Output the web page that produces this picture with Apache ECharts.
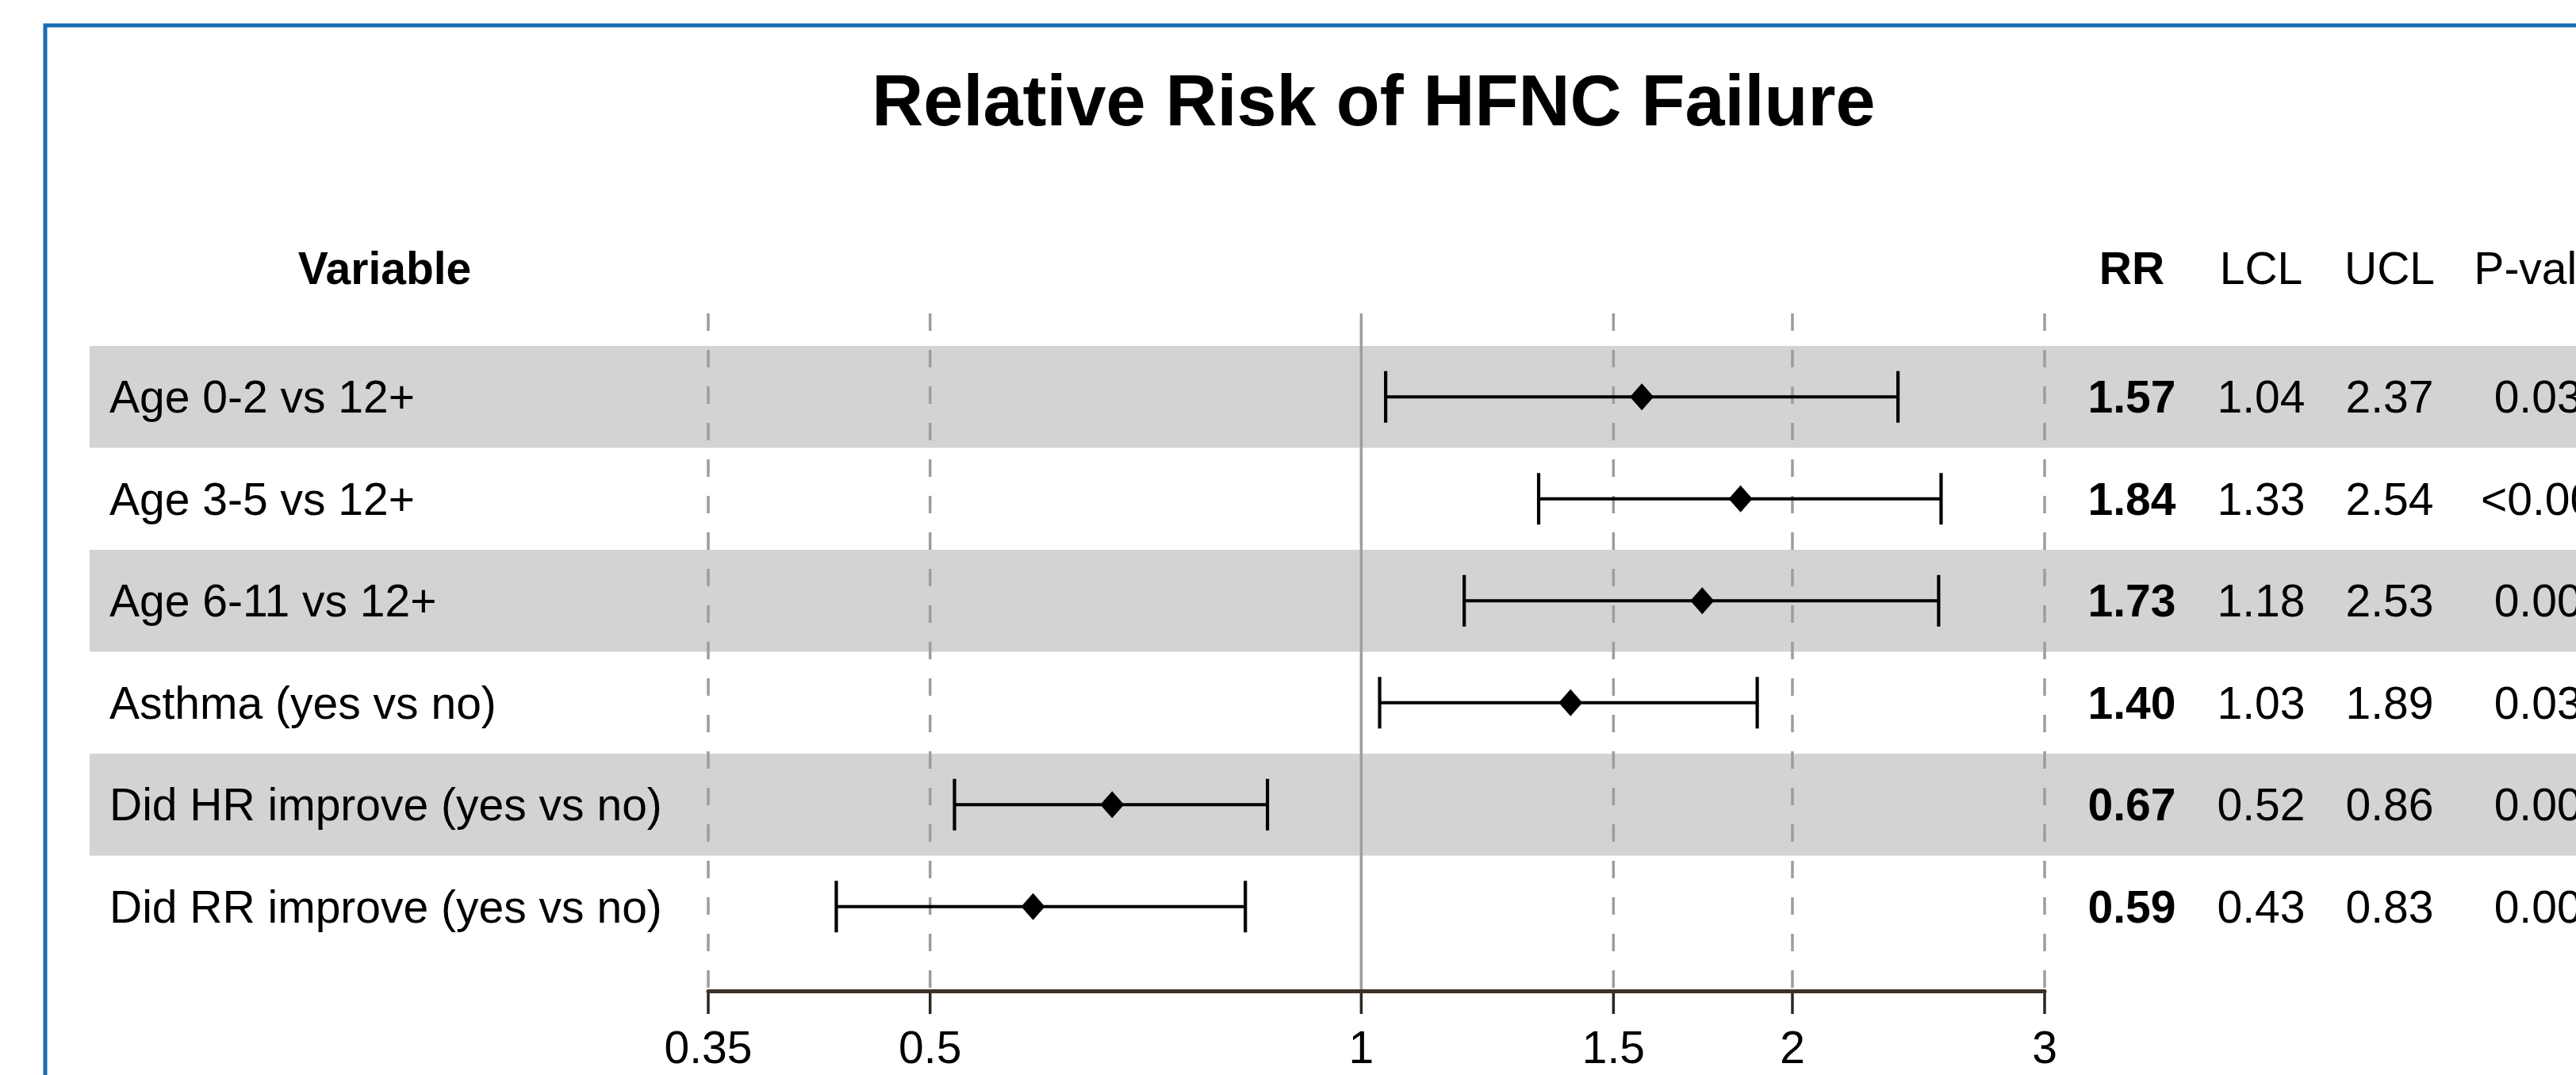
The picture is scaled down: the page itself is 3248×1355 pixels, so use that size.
<!DOCTYPE html>
<html>
<head>
<meta charset="utf-8">
<title>Relative Risk of HFNC Failure</title>
<script src="https://cdn.jsdelivr.net/npm/echarts@6.0.0/dist/echarts.min.js"></script>
<style>
	html, body { margin: 0; padding: 0; background: #fff; }
	#chart { width: 3248px; height: 1355px; }
</style>
</head>
<body>
<div id="chart"></div>
<script>
// data
var variables = ['Age 0-2 vs 12+', 'Age 3-5 vs 12+', 'Age 6-11 vs 12+', 'Asthma (yes vs no)', 'Did HR improve (yes vs no)', 'Did RR improve (yes vs no)'];
var rr = [1.57, 1.84, 1.73, 1.40, 0.67, 0.59];
var lcl = [1.04, 1.33, 1.18, 1.03, 0.52, 0.43];
var ucl = [2.37, 2.54, 2.53, 1.89, 0.86, 0.83];
var pValues = ['0.032', '<0.001', '0.005', '0.030', '0.002', '0.002'];
var tickValues = [0.35, 0.5, 1, 1.5, 2, 3];
var tickLabels = ['0.35', '0.5', '1', '1.5', '2', '3'];
var shadedRows = [0, 2, 4];
var columnHeaders = ['RR', 'LCL', 'UCL', 'P-value'];

var font = "'Liberation Sans', Arial, Helvetica, sans-serif";
var fs = 57;
// 表格列中心
var colX = [2688, 2851, 3013, 3216];
var labelX = 138;
var headerY = 338;
var capHalf = 32.5;

function txt(x, y, s, align, bold) {
	return {
		type: 'text',
		style: {
			x: x, y: y, text: s,
			fill: '#000',
			fontSize: fs,
			lineHeight: fs,
			fontFamily: font,
			fontWeight: bold ? 'bold' : 'normal',
			align: align,
			verticalAlign: 'middle'
		}
	};
}

var myChart = echarts.init(document.getElementById('chart'), null, {renderer: 'svg'});
var option = {
	backgroundColor: '#fff',
	animation: false,
	title: {
		text: 'Relative Risk of HFNC Failure',
		left: 1732,
		top: 127,
		padding: 0,
		textAlign: 'center',
		textVerticalAlign: 'middle',
		textStyle: {
			fontFamily: font,
			fontSize: 90,
			fontWeight: 'bold',
			color: '#000'
		}
	},
	graphic: [
		{
			type: 'rect',
			shape: {x: 57, y: 32, width: 3400, height: 1500},
			style: {fill: 'none', stroke: '#1a6db4', lineWidth: 5},
			z: 0
		},
		{
			type: 'group',
			children: [txt(485, headerY, 'Variable', 'center', true)].concat(
				columnHeaders.map(function (h, i) { return txt(colX[i], headerY, h, 'center', i === 0); })
			)
		}
	],
	grid: {
		left: 893,
		right: 3248 - 2578,
		top: 395,
		bottom: 1355 - 1249,
		containLabel: false
	},
	xAxis: {
		type: 'log',
		min: 0.35,
		max: 3,
		z: 6,
		axisLine: {
			show: true,
			onZero: false,
			lineStyle: {color: '#3d3228', width: 5}
		},
		axisTick: {show: false},
		axisLabel: {show: false},
		splitLine: {show: false}
	},
	yAxis: {
		type: 'value',
		inverse: true,
		min: -0.819,
		max: 5.827,
		show: false
	},
	series: [
		// 灰色条带
		{
			type: 'custom',
			name: 'bands',
			z: 1,
			clip: false,
			silent: true,
			data: shadedRows.map(function (r) { return [1, r]; }),
			encode: {x: 0, y: 1},
			renderItem: function (params, api) {
				var c = api.coord([1, api.value(1)]);
				var h = api.size([0, 1])[1];
				return {
					type: 'rect',
					shape: {x: 113, y: c[1] - h / 2, width: 3300, height: h},
					style: {fill: '#d3d3d3'}
				};
			}
		},
		// 网格线 + 刻度 + 刻度标签
		{
			type: 'custom',
			name: 'ticks',
			z: 2,
			clip: false,
			silent: true,
			data: tickValues.map(function (v) { return [v, 0]; }),
			encode: {x: 0, y: 1},
			renderItem: function (params, api) {
				var cs = params.coordSys;
				var x = api.coord([api.value(0), 0])[0];
				var top = cs.y;
				var bottom = cs.y + cs.height;
				var solid = api.value(0) === 1;
				return {
					type: 'group',
					children: [
						{
							type: 'line',
							shape: {x1: x, y1: top, x2: x, y2: bottom},
							style: {
								stroke: '#9d9d9d',
								lineWidth: 3.5,
								lineDash: solid ? null : [22, 24]
							}
						},
						{
							type: 'line',
							shape: {x1: x, y1: bottom, x2: x, y2: bottom + 29},
							style: {stroke: '#2e261e', lineWidth: 3.5}
						},
						txt(x, bottom + 71, tickLabels[params.dataIndex], 'center', false)
					]
				};
			}
		},
		// 置信区间
		{
			type: 'custom',
			name: '95% CI',
			z: 3,
			clip: false,
			data: lcl.map(function (v, i) { return [v, ucl[i], i]; }),
			encode: {x: [0, 1], y: 2},
			renderItem: function (params, api) {
				var lo = api.coord([api.value(0), api.value(2)]);
				var hi = api.coord([api.value(1), api.value(2)]);
				var st = {stroke: '#000', lineWidth: 4.2};
				return {
					type: 'group',
					children: [
						{type: 'line', shape: {x1: lo[0], y1: lo[1], x2: hi[0], y2: hi[1]}, style: st},
						{type: 'line', shape: {x1: lo[0], y1: lo[1] - capHalf, x2: lo[0], y2: lo[1] + capHalf}, style: st},
						{type: 'line', shape: {x1: hi[0], y1: hi[1] - capHalf, x2: hi[0], y2: hi[1] + capHalf}, style: st}
					]
				};
			}
		},
		// RR 点
		{
			type: 'scatter',
			name: 'RR',
			z: 4,
			symbol: 'diamond',
			symbolSize: [30, 34],
			itemStyle: {color: '#000', opacity: 1},
			data: rr.map(function (v, i) { return [v, i]; })
		},
		// 表格文字
		{
			type: 'custom',
			name: 'table',
			z: 5,
			clip: false,
			silent: true,
			data: variables.map(function (v, i) { return [1, i]; }),
			encode: {x: 0, y: 1},
			renderItem: function (params, api) {
				var i = params.dataIndex;
				var y = api.coord([1, api.value(1)])[1];
				return {
					type: 'group',
					children: [
						txt(labelX, y, variables[i], 'left', false),
						txt(colX[0], y, rr[i].toFixed(2), 'center', true),
						txt(colX[1], y, lcl[i].toFixed(2), 'center', false),
						txt(colX[2], y, ucl[i].toFixed(2), 'center', false),
						txt(colX[3], y, pValues[i], 'center', false)
					]
				};
			}
		}
	]
};
myChart.setOption(option);
</script>
</body>
</html>
